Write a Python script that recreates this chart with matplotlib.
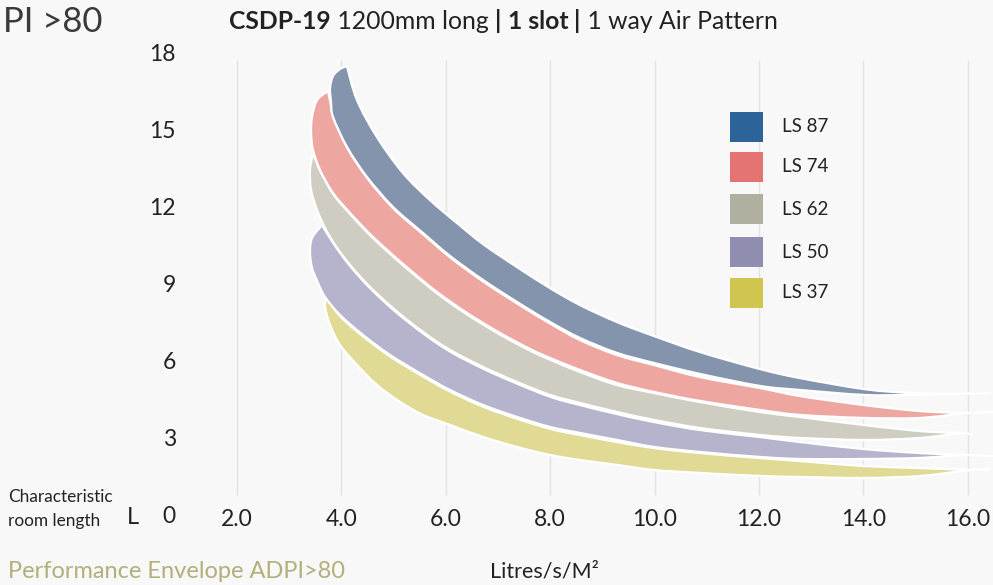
import matplotlib
matplotlib.use("Agg")
import numpy as np
import matplotlib.pyplot as plt
from matplotlib.path import Path
from matplotlib.patches import PathPatch, Rectangle

FONT = ["Lato", "DejaVu Sans"]
plt.rcParams["font.family"] = FONT

# ---------------- data (x: Litres/s/M2, y: characteristic room length L) -------------
series_names = ["LS 87", "LS 74", "LS 62", "LS 50", "LS 37"]
legend_colors = ["#2c6499", "#e57373", "#b1af9f", "#8f8db0", "#cfc54f"]
band_colors = ["#8494ad", "#eea6a0", "#cfcdc1", "#b6b4cc", "#e0da94"]

ls87_upper_x = [4.107, 4.299, 4.682, 5.180, 5.697, 6.215, 6.713, 7.364, 7.996, 8.571, 9.280, 9.989, 10.870, 12.019, 12.785, 14.011, 14.893, 15.602]
ls87_upper_y = [17.569, 16.245, 14.803, 13.401, 12.349, 11.453, 10.635, 9.739, 8.921, 8.259, 7.596, 7.051, 6.428, 5.765, 5.415, 4.986, 4.831, 4.792]
ls87_lower_x = [4.107, 3.973, 3.839, 3.782, 3.801, 3.839, 4.107, 4.490, 4.989, 5.563, 6.080, 6.713, 7.364, 7.996, 8.571, 9.280, 9.989, 10.870, 12.019, 12.785, 14.011, 14.893, 15.602]
ls87_lower_y = [17.569, 17.452, 17.180, 16.712, 16.167, 15.583, 14.414, 13.245, 12.076, 11.063, 10.168, 9.233, 8.376, 7.596, 6.973, 6.389, 5.999, 5.571, 5.103, 4.947, 4.753, 4.753, 4.792]

ls74_upper_x = [3.743, 3.801, 3.858, 4.127, 4.510, 5.008, 5.582, 6.099, 6.732, 7.383, 8.015, 8.571, 9.280, 9.989, 10.870, 12.019, 12.785, 14.011, 15.084, 15.946]
ls74_upper_y = [16.595, 16.050, 15.544, 14.336, 13.167, 11.999, 10.986, 10.090, 9.155, 8.298, 7.519, 6.895, 6.311, 5.921, 5.454, 5.025, 4.714, 4.363, 4.129, 4.051]
ls74_lower_x = [3.743, 3.533, 3.437, 3.418, 3.456, 3.590, 3.839, 4.165, 4.605, 5.180, 5.831, 6.406, 7.038, 7.613, 7.996, 8.571, 9.280, 9.989, 10.870, 12.019, 12.785, 14.011, 15.084, 15.946]
ls74_lower_y = [16.595, 16.245, 15.583, 14.959, 14.297, 13.518, 12.622, 11.843, 10.908, 9.856, 8.765, 7.947, 7.168, 6.545, 6.194, 5.727, 5.220, 4.870, 4.519, 4.168, 3.974, 3.857, 3.857, 4.051]

ls62_upper_x = [3.456, 3.609, 3.858, 4.184, 4.625, 5.199, 5.851, 6.425, 7.057, 7.632, 8.015, 8.571, 9.280, 9.989, 10.870, 12.019, 12.785, 14.011, 15.084, 15.851]
ls62_upper_y = [14.180, 13.440, 12.544, 11.765, 10.830, 9.778, 8.687, 7.869, 7.090, 6.467, 6.116, 5.649, 5.142, 4.831, 4.480, 4.090, 3.896, 3.584, 3.350, 3.272]
ls62_lower_x = [3.456, 3.398, 3.418, 3.533, 3.686, 3.877, 4.165, 4.548, 5.027, 5.563, 6.080, 6.713, 7.364, 7.996, 8.571, 9.280, 9.989, 10.870, 12.019, 12.785, 14.011, 15.084, 15.851]
ls62_lower_y = [14.180, 13.518, 12.739, 11.960, 11.258, 10.596, 9.817, 8.960, 8.064, 7.207, 6.506, 5.843, 5.259, 4.753, 4.441, 4.090, 3.779, 3.467, 3.194, 3.078, 3.000, 3.078, 3.272]

ls50_upper_x = [3.628, 3.897, 4.184, 4.567, 5.046, 5.582, 6.099, 6.732, 7.383, 8.015, 8.571, 9.280, 9.989, 10.870, 12.019, 12.785, 14.011, 15.084, 15.908]
ls50_upper_y = [11.375, 10.518, 9.739, 8.882, 7.986, 7.129, 6.428, 5.765, 5.181, 4.675, 4.363, 4.012, 3.701, 3.389, 3.117, 2.922, 2.649, 2.493, 2.415]
ls50_lower_x = [3.628, 3.437, 3.398, 3.437, 3.552, 3.686, 3.973, 4.414, 4.931, 5.563, 6.080, 6.713, 7.364, 7.996, 8.571, 9.280, 9.989, 10.870, 12.019, 12.785, 14.011, 15.084, 15.908]
ls50_lower_y = [11.375, 10.869, 10.323, 9.700, 9.116, 8.570, 7.869, 7.090, 6.311, 5.532, 4.947, 4.363, 3.896, 3.506, 3.272, 3.000, 2.727, 2.532, 2.337, 2.259, 2.259, 2.298, 2.415]

ls37_upper_x = [3.705, 3.992, 4.433, 4.950, 5.582, 6.099, 6.732, 7.383, 8.015, 8.571, 9.280, 9.989, 10.870, 12.019, 12.785, 14.011, 15.084, 16.042]
ls37_upper_y = [8.570, 7.791, 7.012, 6.233, 5.454, 4.870, 4.285, 3.818, 3.428, 3.194, 2.922, 2.688, 2.493, 2.298, 2.182, 1.987, 1.909, 1.831]
ls37_lower_x = [3.705, 3.686, 3.782, 3.973, 4.299, 4.682, 5.123, 5.563, 6.080, 6.713, 7.364, 7.996, 8.571, 9.280, 9.989, 10.870, 12.019, 12.785, 14.011, 15.084, 16.042]
ls37_lower_y = [8.570, 8.181, 7.480, 6.700, 5.921, 5.142, 4.480, 3.974, 3.584, 3.117, 2.727, 2.415, 2.220, 2.026, 1.831, 1.714, 1.597, 1.558, 1.519, 1.597, 1.831]

# white edge that carries on past each band's tip
tail_end_x = [16.425, 16.483, 16.080, 16.483, 16.425]
tail_end_y = [4.831, 4.090, 3.233, 2.376, 1.870]

x_ticks = [2, 4, 6, 8, 10, 12, 14, 16]
x_tick_labels = ["2.0", "4.0", "6.0", "8.0", "10.0", "12.0", "14.0", "16.0"]
y_ticks = [0, 3, 6, 9, 12, 15, 18]
y_tick_labels = ["0", "3", "6", "9", "12", "15", "18"]

uppers = [(ls87_upper_x, ls87_upper_y), (ls74_upper_x, ls74_upper_y), (ls62_upper_x, ls62_upper_y),
          (ls50_upper_x, ls50_upper_y), (ls37_upper_x, ls37_upper_y)]
lowers = [(ls87_lower_x, ls87_lower_y), (ls74_lower_x, ls74_lower_y), (ls62_lower_x, ls62_lower_y),
          (ls50_lower_x, ls50_lower_y), (ls37_lower_x, ls37_lower_y)]


def smooth_segments(xs, ys):
    """Cubic Bezier segments (Catmull-Rom style) through the given points."""
    p = np.column_stack([xs, ys]).astype(float)
    n = len(p)
    verts, codes = [], []
    for i in range(n - 1):
        p0 = p[i - 1] if i > 0 else p[i]
        p1, p2 = p[i], p[i + 1]
        p3 = p[i + 2] if i + 2 < n else p[i + 1]
        verts += [p1 + (p2 - p0) / 6.0, p2 - (p3 - p1) / 6.0, p2]
        codes += [Path.CURVE4] * 3
    return verts, codes


def band_path(ux, uy, lx, ly):
    v1, c1 = smooth_segments(ux, uy)
    v2, c2 = smooth_segments(lx[::-1], ly[::-1])
    verts = [(ux[0], uy[0])] + v1 + [(lx[-1], ly[-1])] + v2 + [(ux[0], uy[0])]
    codes = [Path.MOVETO] + c1 + [Path.LINETO] + c2 + [Path.CLOSEPOLY]
    return Path(verts, codes)


# ---------------- figure --------------------------------------------------------------
W, H = 993, 585
BG = "#f8f8f8"
TXT = "#222222"
fig = plt.figure(figsize=(W / 100, H / 100), dpi=100, facecolor=BG)
ax = fig.add_axes([0, 0, 1, 1])
ax.set_facecolor(BG)
ax.set_xlim(-2.540, 16.483)
ax.set_ylim(-2.649, 20.140)
ax.axis("off")

# vertical gridlines
ax.vlines(x_ticks, 0.86, 17.8, colors="#e3e3e3", lw=1.0, zorder=1)

# bands: bottom series first so the upper ones sit on top
for i in reversed(range(5)):
    ux, uy = uppers[i]
    lx, ly = lowers[i]
    z = 2 + (5 - i)
    ax.add_patch(PathPatch(band_path(ux, uy, lx, ly), facecolor=band_colors[i],
                           edgecolor="white", lw=1.7, joinstyle="round", zorder=z))
    ax.plot([ux[-1], tail_end_x[i]], [uy[-1], tail_end_y[i]], color="white",
            lw=1.7, solid_capstyle="round", zorder=z)

# tick labels
for v, lab in zip(x_ticks, x_tick_labels):
    ax.text(v, -0.08, lab, ha="center", va="center", fontsize=16.5, color=TXT)
for v, lab in zip(y_ticks, y_tick_labels):
    ax.text(0.83, v, lab, ha="right", va="center", fontsize=16.5, color=TXT)

# legend (swatch + label)
legend_y_px = [127, 167, 209, 252.5, 293]
for name, col, yc in zip(series_names, legend_colors, legend_y_px):
    fig.patches.append(Rectangle((730 / W, 1 - (yc + 15) / H), 33 / W, 30 / H,
                                 transform=fig.transFigure, facecolor=col,
                                 edgecolor="none"))
    fig.text(782 / W, 1 - yc / H, name, fontsize=13.5, color=TXT, va="center", ha="left")

# header texts
fig.text(3 / W, 1 - 32 / H, "PI >80", fontsize=25, color="#3a3a3a",
         va="baseline", ha="left")

renderer = fig.canvas.get_renderer()
parts = [("CSDP-19", "bold"), (" 1200mm long ", "normal"), ("|", "bold"), (" ", "normal"),
         ("1 slot", "bold"), (" ", "normal"), ("|", "bold"), (" 1 way Air Pattern", "normal")]
xpx = 229
for s, wgt in parts:
    t = fig.text(xpx / W, 1 - 29 / H, s, fontsize=17.8, fontweight=wgt,
                 color=TXT, va="baseline", ha="left")
    xpx = t.get_window_extent(renderer).x1

# bottom-left labels
fig.text(8 / W, 1 - 497 / H, "Characteristic", fontsize=12.4, color=TXT,
         va="center", ha="left")
fig.text(8 / W, 1 - 521 / H, "room length", fontsize=12.4, color=TXT,
         va="center", ha="left")
fig.text(127 / W, 1 - 518 / H, "L", fontsize=17, color=TXT, va="center", ha="left")

fig.text(8 / W, 1 - 571 / H, "Performance Envelope ADPI>80", fontsize=17,
         color="#b3ae7a", va="center", ha="left")
fig.text(490 / W, 1 - 571 / H, "Litres/s/M\u00b2", fontsize=15.5, color=TXT,
         va="center", ha="left")

fig.savefig("out.png", dpi=100, facecolor=BG)
